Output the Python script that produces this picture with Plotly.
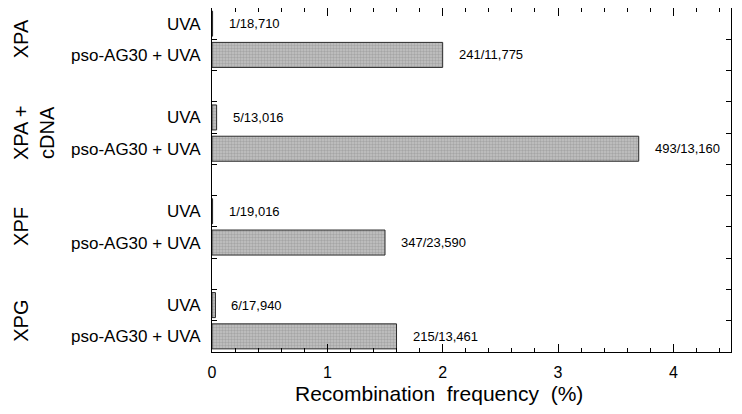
import plotly.graph_objects as go

# data
groups = ["XPA", "XPA +<br>cDNA", "XPF", "XPG"]
treatments = ["UVA", "pso-AG30 + UVA"]
freq_pct = [0.005, 2.0, 0.04, 3.7, 0.005, 1.5, 0.03, 1.6]
counts = ["1/18,710", "241/11,775", "5/13,016", "493/13,160",
          "1/19,016", "347/23,590", "6/17,940", "215/13,461"]
x_ticks = [0, 1, 2, 3, 4]

FONT = "Liberation Sans, Arial, Helvetica, sans-serif"

# one slot per bar, one empty slot between groups
step = len(treatments) + 1
rows = [g * step + t for g in range(len(groups)) for t in range(len(treatments))]
row_labels = treatments * len(groups)
n_slots = len(groups) * step - 1
y_range = [n_slots - 0.5, -0.5]
boundaries = [i + 0.5 for i in range(n_slots - 1)]
x_range = [0, 4.5]

fig = go.Figure()
fig.add_trace(go.Bar(
    x=freq_pct, y=rows, orientation="h", width=0.8,
    marker=dict(
        color="#bdbdbd",
        line=dict(color="#2a2a2a", width=1),
        pattern=dict(shape=".", size=3, solidity=0.5,
                     fgcolor="#858585", bgcolor="#c4c4c4"),
    ),
    showlegend=False, hoverinfo="skip",
))
# invisible traces so the tick-only frame axes get drawn
for xa, ya in [("x2", "y"), ("x", "y2"), ("x", "y3")]:
    fig.add_trace(go.Scatter(
        x=freq_pct, y=rows, xaxis=xa, yaxis=ya, mode="markers",
        marker=dict(opacity=0), showlegend=False, hoverinfo="skip",
    ))

annotations = []
for r, v, txt in zip(rows, freq_pct, counts):
    annotations.append(dict(
        x=v, y=r, xref="x", yref="y", text=txt, showarrow=False,
        xanchor="left", yanchor="middle", xshift=14,
        font=dict(family=FONT, size=13, color="black"),
    ))
for g, name in enumerate(groups):
    annotations.append(dict(
        x=-0.393, y=g * step + (len(treatments) - 1) / 2, xref="paper", yref="y",
        text=name, showarrow=False, textangle=-90,
        xanchor="left", yanchor="middle",
        font=dict(family=FONT, size=20, color="black"),
    ))
annotations.append(dict(
    x=0.437, y=-0.122, xref="paper", yref="paper",
    text="Recombination&nbsp;&nbsp;frequency&nbsp;&nbsp;(%)", showarrow=False,
    xanchor="center", yanchor="middle",
    font=dict(family=FONT, size=21, color="black"),
))

frame = dict(showline=True, linecolor="black", linewidth=1,
             showgrid=False, zeroline=False, tickcolor="black")
minor_ticks = dict(dtick=0.2, tick0=0, ticks="inside", ticklen=4,
                   tickcolor="black", showgrid=False)

fig.update_layout(
    width=742, height=414,
    # page body adds an 8px offset, margins compensate for it
    margin=dict(l=204, r=19, t=0, b=70),
    plot_bgcolor="white", paper_bgcolor="white",
    font=dict(family=FONT, color="black"),
    annotations=annotations,
    xaxis=dict(
        range=x_range, tickvals=x_ticks, ticks="inside", ticklen=8,
        tickfont=dict(size=16), ticklabelstandoff=6,
        minor=minor_ticks, **frame,
    ),
    xaxis2=dict(
        range=x_range, overlaying="x", side="top", anchor="y",
        tickvals=x_ticks, ticks="inside", ticklen=8, showticklabels=False,
        minor=minor_ticks, **frame,
    ),
    yaxis=dict(
        range=y_range, tickvals=rows, ticktext=row_labels, ticks="",
        tickfont=dict(size=17), ticklabelstandoff=7,
        **frame,
    ),
    yaxis2=dict(
        range=y_range, overlaying="y", side="left", anchor="x",
        tickvals=boundaries, ticks="inside", ticklen=5,
        showticklabels=False, **frame,
    ),
    yaxis3=dict(
        range=y_range, overlaying="y", side="right", anchor="x",
        tickvals=boundaries, ticks="inside", ticklen=5,
        showticklabels=False, **frame,
    ),
)

fig.write_html("out.html")
